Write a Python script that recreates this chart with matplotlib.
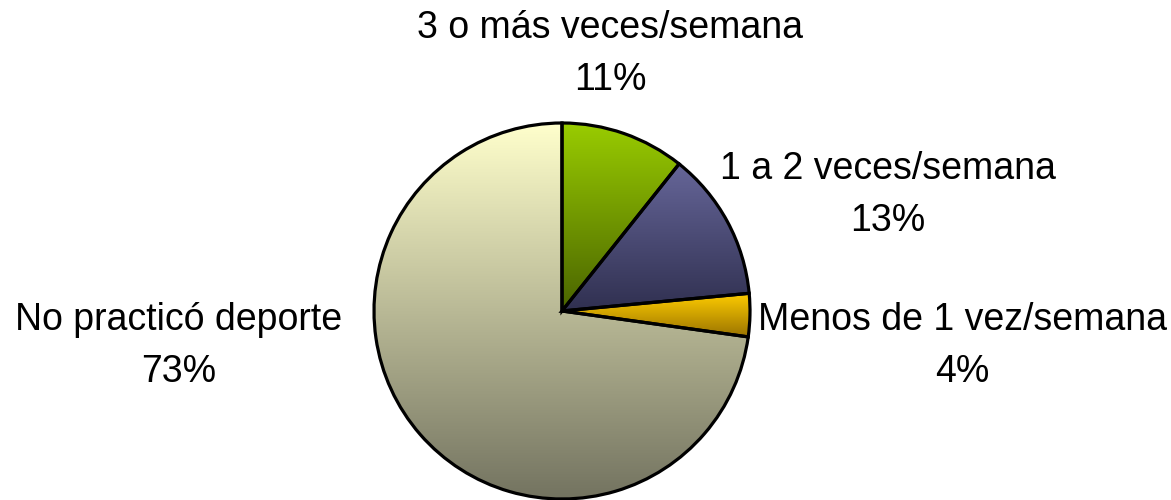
import numpy as np
import matplotlib
matplotlib.use("Agg")
import matplotlib.pyplot as plt
from matplotlib.colors import LinearSegmentedColormap

plt.rcParams["font.family"] = ["Liberation Sans", "DejaVu Sans"]

# datos
categorias = ["3 o más veces/semana", "1 a 2 veces/semana",
              "Menos de 1 vez/semana", "No practicó deporte"]
valores = [10.7, 12.8, 3.7, 72.8]
colores_arriba = ["#99CC00", "#666699", "#FFCC00", "#FFFFCC"]
colores_abajo = ["#4A6400", "#303050", "#9A7400", "#737360"]

fig = plt.figure(figsize=(11.71, 5.0), dpi=100)
ax = fig.add_axes([0, 0, 1, 1])

centro = (562, 189)
radio = 188
wedges, _ = ax.pie(valores, startangle=90, counterclock=False,
                   center=centro, radius=radio, frame=True,
                   wedgeprops=dict(facecolor="none", edgecolor="black",
                                   linewidth=2.3, zorder=3))

# relleno degradado vertical para cada porcion
for w, c1, c2 in zip(wedges, colores_arriba, colores_abajo):
    bb = w.get_path().get_extents(w.get_patch_transform())
    cmap = LinearSegmentedColormap.from_list("g", [c2, c1])
    grad = np.linspace(0, 1, 256).reshape(-1, 1)
    im = ax.imshow(grad, cmap=cmap, origin="lower", aspect="auto",
                   extent=[bb.x0, bb.x1, bb.y0, bb.y1], zorder=2,
                   interpolation="bilinear")
    im.set_clip_path(w)

ax.set_xlim(0, 1171)
ax.set_ylim(0, 500)
ax.set_aspect("equal")
ax.axis("off")

# etiquetas
posiciones = [(610, 446), (888, 305), (962, 154), (179, 154)]
for cat, v, (x, y) in zip(categorias, valores, posiciones):
    ax.text(x, y, f"{cat}\n{v:.0f}%", ha="center", va="center",
            fontsize=27, linespacing=1.6)

fig.savefig("out.png", dpi=100)
